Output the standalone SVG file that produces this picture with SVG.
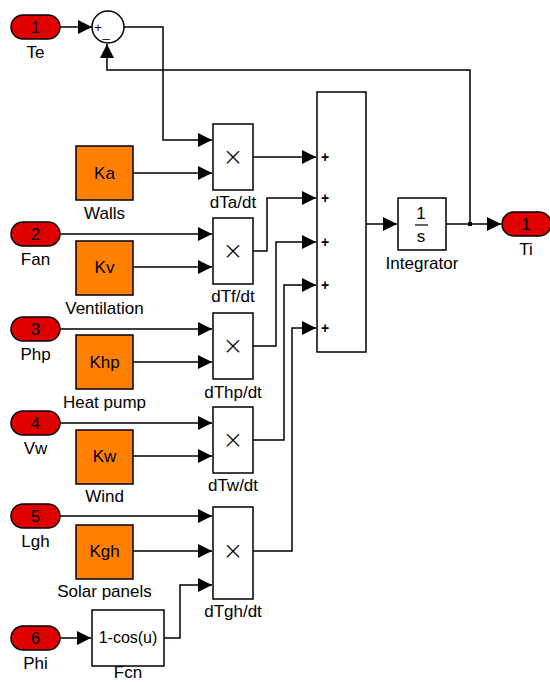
<svg xmlns="http://www.w3.org/2000/svg" width="550" height="682" viewBox="0 0 550 682">
<style>
text{font-family:"Liberation Sans",Arial,sans-serif;fill:#000}
.lbl{font-size:17px;text-anchor:middle}
.num{font-size:17px;text-anchor:middle}
.pill{fill:#e00000;stroke:#000;stroke-width:1.5}
.k{fill:#ff8000;stroke:#000;stroke-width:1.5}
.blk{fill:#fff;stroke:#000;stroke-width:1.5}
.w{fill:none;stroke:#000;stroke-width:1.5}
.x{font-family:"DejaVu Sans",sans-serif;font-weight:200;font-size:25px;text-anchor:middle}
.p{font-size:14px;text-anchor:middle;font-weight:bold}
</style>
<defs>
<marker id="ar" markerUnits="userSpaceOnUse" markerWidth="14" markerHeight="14" refX="14" refY="7" orient="auto">
<path d="M0,0 L14,7 L0,14 z" fill="#000"/>
</marker>
</defs>
<rect width="550" height="682" fill="#fff"/>

<g id="connectors">
<path class="w" d="M60,27 H92" marker-end="url(#ar)"/>
<path class="w" d="M124,27 H163 V140 H212" marker-end="url(#ar)"/>
<path class="w" d="M133,173 H212" marker-end="url(#ar)"/>
<path class="w" d="M60,234 H212" marker-end="url(#ar)"/>
<path class="w" d="M133,267 H212" marker-end="url(#ar)"/>
<path class="w" d="M60,329 H212" marker-end="url(#ar)"/>
<path class="w" d="M133,362 H212" marker-end="url(#ar)"/>
<path class="w" d="M60,423 H212" marker-end="url(#ar)"/>
<path class="w" d="M133,456 H212" marker-end="url(#ar)"/>
<path class="w" d="M60,516 H212" marker-end="url(#ar)"/>
<path class="w" d="M133,551 H212" marker-end="url(#ar)"/>
<path class="w" d="M60,638 H91" marker-end="url(#ar)"/>
<path class="w" d="M164,638 H180 V585 H212" marker-end="url(#ar)"/>
<path class="w" d="M253,157 H316" marker-end="url(#ar)"/>
<path class="w" d="M253,251 H267 V198 H316" marker-end="url(#ar)"/>
<path class="w" d="M253,346 H276 V242 H316" marker-end="url(#ar)"/>
<path class="w" d="M253,440 H284 V285 H316" marker-end="url(#ar)"/>
<path class="w" d="M253,551 H292 V328 H316" marker-end="url(#ar)"/>
<path class="w" d="M366,224 H397" marker-end="url(#ar)"/>
<path class="w" d="M446,224 H501" marker-end="url(#ar)"/>
<path class="w" d="M470,224 V70 H107 V44" marker-end="url(#ar)"/>
<rect x="468" y="222" width="4" height="4" fill="#000"/>
</g>

<g id="Te"><rect class="pill" x="11" y="15" width="49" height="24" rx="12"/><text class="num" x="35.5" y="33">1</text><text class="lbl" x="35.5" y="58">Te</text></g>
<g id="Sum1"><circle class="blk" cx="108" cy="27" r="16"/><text class="p" x="98" y="32" style="font-weight:normal;font-size:13px">+</text><text class="p" x="106" y="37" style="font-weight:normal;font-size:13px">_</text></g>
<g id="Fan"><rect class="pill" x="11" y="222" width="49" height="24" rx="12"/><text class="num" x="35.5" y="240">2</text><text class="lbl" x="35.5" y="265">Fan</text></g>
<g id="Php"><rect class="pill" x="11" y="317" width="49" height="24" rx="12"/><text class="num" x="35.5" y="335">3</text><text class="lbl" x="35.5" y="360">Php</text></g>
<g id="Vw"><rect class="pill" x="11" y="411" width="49" height="24" rx="12"/><text class="num" x="35.5" y="429">4</text><text class="lbl" x="35.5" y="454">Vw</text></g>
<g id="Lgh"><rect class="pill" x="11" y="504" width="49" height="24" rx="12"/><text class="num" x="35.5" y="522">5</text><text class="lbl" x="35.5" y="547">Lgh</text></g>
<g id="Phi"><rect class="pill" x="11" y="626" width="49" height="24" rx="12"/><text class="num" x="35.5" y="644">6</text><text class="lbl" x="35.5" y="669">Phi</text></g>

<g id="Ka"><rect class="k" x="76" y="146" width="57" height="54"/><text class="lbl" x="104.5" y="179">Ka</text><text class="lbl" x="104.5" y="219">Walls</text></g>
<g id="Kv"><rect class="k" x="76" y="241" width="57" height="54"/><text class="lbl" x="104.5" y="273">Kv</text><text class="lbl" x="104.5" y="314">Ventilation</text></g>
<g id="Khp"><rect class="k" x="76" y="335" width="57" height="54"/><text class="lbl" x="104.5" y="368">Khp</text><text class="lbl" x="104.5" y="408">Heat pump</text></g>
<g id="Kw"><rect class="k" x="76" y="430" width="57" height="54"/><text class="lbl" x="104.5" y="462">Kw</text><text class="lbl" x="104.5" y="502">Wind</text></g>
<g id="Kgh"><rect class="k" x="76" y="525" width="57" height="54"/><text class="lbl" x="104.5" y="557">Kgh</text><text class="lbl" x="104.5" y="597">Solar panels</text></g>

<g id="dTa"><rect class="blk" x="213" y="124" width="40" height="66"/><text class="x" x="233" y="165">×</text><text class="lbl" x="233" y="208">dTa/dt</text></g>
<g id="dTf"><rect class="blk" x="213" y="218" width="40" height="66"/><text class="x" x="233" y="259">×</text><text class="lbl" x="233" y="302">dTf/dt</text></g>
<g id="dThp"><rect class="blk" x="213" y="313" width="40" height="66"/><text class="x" x="233" y="354">×</text><text class="lbl" x="233" y="398">dThp/dt</text></g>
<g id="dTw"><rect class="blk" x="213" y="407" width="40" height="66"/><text class="x" x="233" y="448">×</text><text class="lbl" x="233" y="491">dTw/dt</text></g>
<g id="dTgh"><rect class="blk" x="213" y="507" width="40" height="92"/><text class="x" x="233" y="559">×</text><text class="lbl" x="233" y="617">dTgh/dt</text></g>

<g id="Fcn"><rect class="blk" x="92" y="610" width="72" height="56"/><text class="num" x="128" y="643" style="font-size:16px">1-cos(u)</text><text class="lbl" x="128" y="678">Fcn</text></g>

<g id="Sum"><rect class="blk" x="317" y="92" width="49" height="260"/>
<text class="p" x="325" y="162">+</text><text class="p" x="325" y="203">+</text><text class="p" x="325" y="247">+</text><text class="p" x="325" y="290">+</text><text class="p" x="325" y="333">+</text></g>

<g id="Integrator"><rect class="blk" x="398" y="198" width="48" height="52"/><text class="num" x="421" y="219">1</text><line x1="415" y1="225" x2="428" y2="225" stroke="#000" stroke-width="1.2"/><text class="num" x="421" y="242">s</text><text class="lbl" x="422" y="269">Integrator</text></g>

<g id="Ti"><rect class="pill" x="502" y="212" width="49" height="24" rx="12"/><text class="num" x="526" y="230">1</text><text class="lbl" x="526" y="255">Ti</text></g>
</svg>
